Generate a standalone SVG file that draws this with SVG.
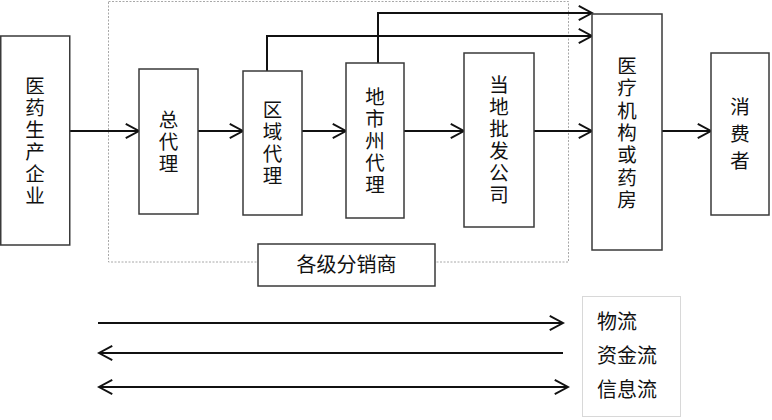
<svg xmlns="http://www.w3.org/2000/svg" width="772" height="420" viewBox="0 0 772 420">
  <defs>
    <marker id="ah" markerUnits="userSpaceOnUse" markerWidth="18" markerHeight="18" viewBox="-2 -2 18 19" refX="14" refY="7.5" orient="auto-start-reverse">
      <path d="M0,0 L14,7.5 L0,15" fill="none" stroke="#111" stroke-width="2"/>
    </marker>
  </defs>
  <style>
    .box { fill: #fff; stroke: #3a3a3a; stroke-width: 1.5; }
    .lbl { font-family: "Liberation Sans", "Noto Sans CJK SC", sans-serif; font-size: 19.5px; fill: #111; text-anchor: middle; dominant-baseline: central; }
    .leg { font-family: "Liberation Sans", "Noto Sans CJK SC", sans-serif; font-size: 20px; fill: #111; dominant-baseline: central; }
    .con { fill: none; stroke: #111; stroke-width: 2; }
    .arr { marker-end: url(#ah); }
  </style>
  <rect width="772" height="420" fill="#fff"/>

  <g id="dist-region">
    <rect x="108.5" y="1.5" width="460" height="260.5" fill="none" stroke="#a8a8a8" stroke-width="1" stroke-dasharray="2,1.5"/>
  </g>

  <g id="connectors">
    <path class="con arr" d="M70,131 H139"/>
    <path class="con arr" d="M198,131 H243"/>
    <path class="con arr" d="M302,131 H346"/>
    <path class="con arr" d="M404,131 H464"/>
    <path class="con arr" d="M534,131 H592"/>
    <path class="con arr" d="M662,131 H711"/>
    <path class="con arr" d="M267,71 V36 H592"/>
    <path class="con arr" d="M378,63 V13 H592"/>
  </g>

  <g id="n-manufacturer">
    <rect class="box" x="0.75" y="36" width="69" height="209"/>
    <text class="lbl"><tspan x="35" y="85.5">医</tspan><tspan x="35" y="107.5">药</tspan><tspan x="35" y="129.5">生</tspan><tspan x="35" y="151.5">产</tspan><tspan x="35" y="173.5">企</tspan><tspan x="35" y="195.5">业</tspan></text>
  </g>

  <g id="n-general-agent">
    <rect class="box" x="139" y="69" width="59" height="145"/>
    <text class="lbl"><tspan x="168.5" y="119.5">总</tspan><tspan x="168.5" y="141.5">代</tspan><tspan x="168.5" y="163.5">理</tspan></text>
  </g>

  <g id="n-regional-agent">
    <rect class="box" x="243" y="71" width="59" height="144"/>
    <text class="lbl"><tspan x="272.5" y="110">区</tspan><tspan x="272.5" y="132">域</tspan><tspan x="272.5" y="154">代</tspan><tspan x="272.5" y="176">理</tspan></text>
  </g>

  <g id="n-city-agent">
    <rect class="box" x="346" y="63" width="58" height="155"/>
    <text class="lbl"><tspan x="375" y="96.5">地</tspan><tspan x="375" y="118.5">市</tspan><tspan x="375" y="140.5">州</tspan><tspan x="375" y="162.5">代</tspan><tspan x="375" y="184.5">理</tspan></text>
  </g>

  <g id="n-local-wholesale">
    <rect class="box" x="464" y="53" width="70" height="174"/>
    <text class="lbl"><tspan x="499" y="85">当</tspan><tspan x="499" y="107">地</tspan><tspan x="499" y="129">批</tspan><tspan x="499" y="151">发</tspan><tspan x="499" y="173">公</tspan><tspan x="499" y="195">司</tspan></text>
  </g>

  <g id="n-hospital-pharmacy">
    <rect class="box" x="592" y="14" width="70" height="236"/>
    <text class="lbl"><tspan x="627" y="66">医</tspan><tspan x="627" y="88.3">疗</tspan><tspan x="627" y="110.6">机</tspan><tspan x="627" y="132.9">构</tspan><tspan x="627" y="155.2">或</tspan><tspan x="627" y="177.5">药</tspan><tspan x="627" y="199.8">房</tspan></text>
  </g>

  <g id="n-consumer">
    <rect class="box" x="711" y="53" width="58" height="162"/>
    <text class="lbl"><tspan x="740" y="107">消</tspan><tspan x="740" y="134">费</tspan><tspan x="740" y="161">者</tspan></text>
  </g>

  <g id="n-distributors-label">
    <rect class="box" x="258" y="244" width="177" height="42"/>
    <text class="lbl" x="346.5" y="265" style="font-size:20px">各级分销商</text>
  </g>

  <g id="legend">
    <path class="con" d="M98,323 H563" marker-end="url(#ah)"/>
    <path class="con" d="M99,353 H563" marker-start="url(#ah)"/>
    <path class="con" d="M99,387 H568" marker-start="url(#ah)" marker-end="url(#ah)"/>
    <rect x="582.5" y="296.5" width="98" height="120" fill="#fff" stroke="#d8d8d8" stroke-width="1"/>
    <text class="leg" x="597" y="322">物流</text>
    <text class="leg" x="597" y="356">资金流</text>
    <text class="leg" x="597" y="390">信息流</text>
  </g>
</svg>
